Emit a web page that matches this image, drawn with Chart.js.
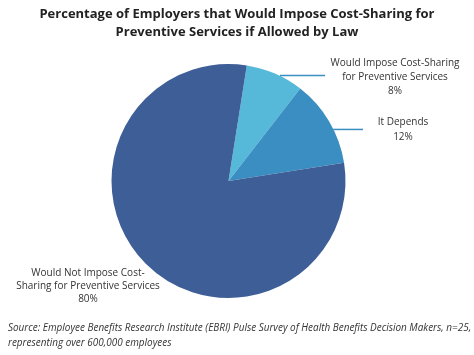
<!DOCTYPE html>
<html><head><meta charset="utf-8">
<script src="https://cdn.jsdelivr.net/npm/chart.js@4"></script>
<style>
html,body{margin:0;padding:0;background:#fff;width:474px;height:355px;overflow:hidden;font-family:"Open Sans",sans-serif;}
#wrap{position:relative;width:474px;height:355px;}
canvas{position:absolute;left:0;top:0;}
#title{position:absolute;left:0;top:4px;width:474px;text-align:center;font-weight:bold;font-size:13px;line-height:18px;color:#222;}
#source{position:absolute;left:8px;top:320px;white-space:nowrap;font-style:italic;font-size:9.95px;line-height:15px;color:#333;}
</style></head>
<body><div id="wrap">
<canvas id="c" width="474" height="355"></canvas>
<div id="title">Percentage of Employers that Would Impose Cost-Sharing for<br>Preventive Services if Allowed by Law</div>
<div id="source">Source: Employee Benefits Research Institute (EBRI) Pulse Survey of Health Benefits Decision Makers, n=25,<br>representing over 600,000 employees</div>
</div>
<script>
const categories = [
  ["Would Impose Cost-Sharing", "for Preventive Services"],
  ["It Depends"],
  ["Would Not Impose Cost-", "Sharing for Preventive Services"]
];
const values = [8, 12, 80];
const colors = ["#56B9DA", "#3B8EC2", "#3D5E97"];

// label layout (positions only)
const labelLayout = [
  {line:true, dx:5, dy:2, endX:325, textX:395, textY:63, spacing:14},
  {line:true, dx:4, dy:8, endX:363, textX:403, textY:122, spacing:15},
  {line:false, textX:88, textY:273, spacing:13}
];

const labelPlugin = {
  id:'outLabels',
  afterDatasetsDraw(chart){
    const ctx = chart.ctx;
    const meta = chart.getDatasetMeta(0);
    ctx.save();
    ctx.font = '10px "Open Sans", sans-serif';
    ctx.fillStyle = '#333';
    ctx.textAlign = 'center';
    ctx.textBaseline = 'middle';
    meta.data.forEach((arc,i)=>{
      const L = labelLayout[i];
      const mid = (arc.startAngle + arc.endAngle)/2;
      const ax = arc.x + Math.cos(mid)*arc.outerRadius;
      const ay = arc.y + Math.sin(mid)*arc.outerRadius;
      const lines = categories[i].concat([values[i] + '%']);
      if (L.line){
        const ly = ay + L.dy;
        ctx.strokeStyle = '#3B8EC2';
        ctx.lineWidth = 1.5;
        ctx.beginPath();
        ctx.moveTo(ax + L.dx, ly);
        ctx.lineTo(L.endX, ly);
        ctx.stroke();
      }
      lines.forEach((t,k)=>{ ctx.fillText(t, L.textX, L.textY + k*L.spacing); });
    });
    ctx.restore();
  }
};

new Chart(document.getElementById('c'), {
  type:'pie',
  data:{
    labels: categories.map(c=>c.join(' ')),
    datasets:[{data:values, backgroundColor:colors, borderWidth:0, hoverOffset:0}]
  },
  options:{
    responsive:false,
    animation:false,
    rotation:9,
    layout:{padding:{top:64,bottom:57,left:0,right:17}},
    plugins:{legend:{display:false},tooltip:{enabled:false},title:{display:false}},
    events:[]
  },
  plugins:[labelPlugin]
});
</script>
</body></html>
